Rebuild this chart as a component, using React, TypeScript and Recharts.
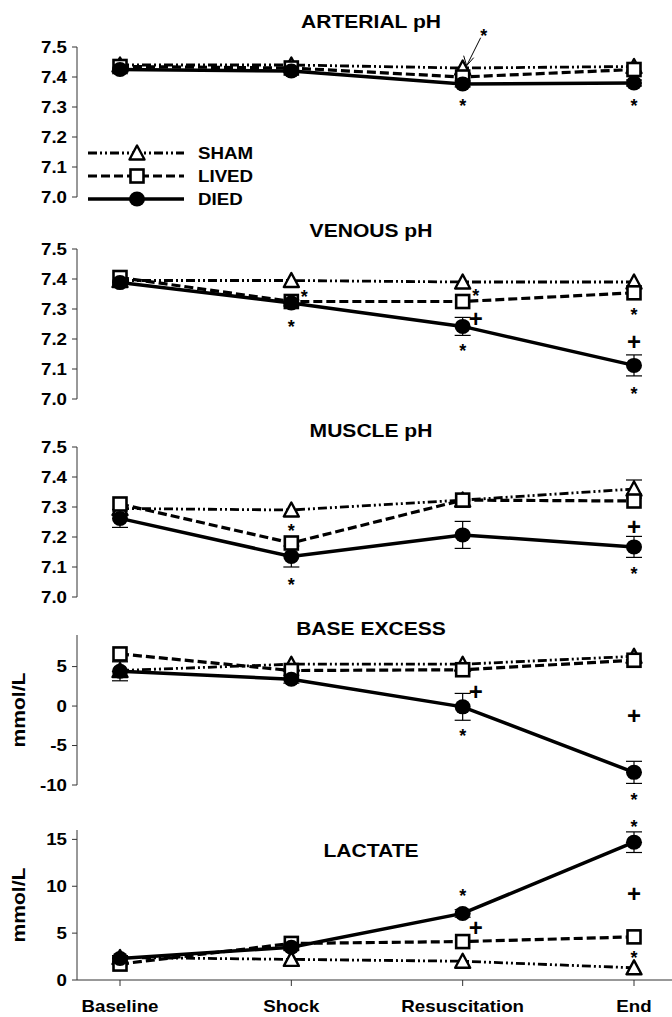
import React from 'react';
import { LineChart, Line, XAxis, YAxis, ErrorBar, ReferenceDot } from 'recharts';

const STAGES = ['Baseline', 'Shock', 'Resuscitation', 'End'];
const SERIES = ['SHAM', 'LIVED', 'DIED'];

// arterial pH
const ART_SHAM = [7.44, 7.44, 7.43, 7.435];
const ART_LIVED = [7.435, 7.43, 7.40, 7.425];
const ART_DIED = [7.425, 7.42, 7.377, 7.38];
const ART_DIED_ERR = [0, 0, 0.01, 0.01];

// venous pH
const VEN_SHAM = [7.395, 7.395, 7.39, 7.39];
const VEN_LIVED = [7.405, 7.325, 7.325, 7.354];
const VEN_DIED = [7.388, 7.32, 7.242, 7.112];
const VEN_DIED_ERR = [0, 0.01, 0.03, 0.035];

// muscle pH
const MUS_SHAM = [7.295, 7.29, 7.323, 7.36];
const MUS_SHAM_ERR = [0, 0, 0, 0.03];
const MUS_LIVED = [7.31, 7.18, 7.323, 7.32];
const MUS_DIED = [7.262, 7.135, 7.207, 7.167];
const MUS_DIED_ERR = [0.03, 0.035, 0.045, 0.035];

// base excess, mmol/L
const BE_SHAM = [4.5, 5.3, 5.3, 6.3];
const BE_LIVED = [6.6, 4.5, 4.6, 5.8];
const BE_DIED = [4.4, 3.4, -0.1, -8.4];
const BE_DIED_ERR = [1.2, 0.5, 1.7, 1.4];

// lactate, mmol/L
const LAC_SHAM = [2.4, 2.2, 2.0, 1.3];
const LAC_LIVED = [1.7, 3.9, 4.1, 4.6];
const LAC_DIED = [2.3, 3.5, 7.1, 14.7];
const LAC_DIED_ERR = [0.3, 0.3, 0.4, 1.1];

const PH_TICKS = [7.0, 7.1, 7.2, 7.3, 7.4, 7.5];
const BE_TICKS = [-10, -5, 0, 5];
const LAC_TICKS = [0, 5, 10, 15];

// significance marks: stage, value where the mark sits, glyph, placement
type Note = { at: string; v: number; m: string; side?: 'r' | 'arrow' };
const ART_NOTES: Note[] = [
  { at: 'Resuscitation', v: 7.318, m: '*' },
  { at: 'End', v: 7.318, m: '*' },
  { at: 'Resuscitation', v: 7.551, m: '*', side: 'arrow' },
];
const VEN_NOTES: Note[] = [
  { at: 'Shock', v: 7.354, m: '*', side: 'r' },
  { at: 'Shock', v: 7.255, m: '*' },
  { at: 'Resuscitation', v: 7.357, m: '*', side: 'r' },
  { at: 'Resuscitation', v: 7.267, m: '+', side: 'r' },
  { at: 'Resuscitation', v: 7.175, m: '*' },
  { at: 'End', v: 7.294, m: '*' },
  { at: 'End', v: 7.189, m: '+' },
  { at: 'End', v: 7.031, m: '*' },
];
const MUS_NOTES: Note[] = [
  { at: 'Shock', v: 7.232, m: '*' },
  { at: 'Shock', v: 7.052, m: '*' },
  { at: 'End', v: 7.235, m: '+' },
  { at: 'End', v: 7.091, m: '*' },
];
const BE_NOTES: Note[] = [
  { at: 'Resuscitation', v: 1.8, m: '+', side: 'r' },
  { at: 'Resuscitation', v: -3.3, m: '*' },
  { at: 'End', v: -1.2, m: '+' },
  { at: 'End', v: -11.4, m: '*' },
];
const LAC_NOTES: Note[] = [
  { at: 'Resuscitation', v: 9.4, m: '*' },
  { at: 'Resuscitation', v: 5.5, m: '+', side: 'r' },
  { at: 'End', v: 16.7, m: '*' },
  { at: 'End', v: 9.2, m: '+' },
  { at: 'End', v: 2.8, m: '*' },
];

const FONT = '"Liberation Sans", Arial, Helvetica, sans-serif';
const SX = 1.17; // the source figure's lettering is stretched sideways

const rows = (sham: number[], lived: number[], died: number[], diedErr: number[], shamErr?: number[]) =>
  STAGES.map((stage, i) => ({
    stage,
    sham: sham[i],
    lived: lived[i],
    died: died[i],
    diedErr: diedErr[i],
    shamErr: shamErr ? shamErr[i] : 0,
  }));

const PANELS = [
  { title: 'ARTERIAL pH', titleY: 21, top: 0, h: 210, mt: 47, mb: 13, domain: [7.0, 7.5], ticks: PH_TICKS, ph: true, data: rows(ART_SHAM, ART_LIVED, ART_DIED, ART_DIED_ERR), notes: ART_NOTES },
  { title: 'VENOUS pH', titleY: 230, top: 210, h: 200, mt: 39, mb: 11, domain: [7.0, 7.5], ticks: PH_TICKS, ph: true, data: rows(VEN_SHAM, VEN_LIVED, VEN_DIED, VEN_DIED_ERR), notes: VEN_NOTES },
  { title: 'MUSCLE pH', titleY: 430, top: 410, h: 200, mt: 37, mb: 13, domain: [7.0, 7.5], ticks: PH_TICKS, ph: true, data: rows(MUS_SHAM, MUS_LIVED, MUS_DIED, MUS_DIED_ERR, MUS_SHAM_ERR), notes: MUS_NOTES },
  { title: 'BASE EXCESS', titleY: 628, top: 610, h: 190, mt: 25, mb: 15, domain: [-10, 9], ticks: BE_TICKS, unit: true, data: rows(BE_SHAM, BE_LIVED, BE_DIED, BE_DIED_ERR), notes: BE_NOTES },
  { title: 'LACTATE', titleY: 850, top: 800, h: 217, mt: 30, mb: 7, domain: [0, 16], ticks: LAC_TICKS, unit: true, last: true, data: rows(LAC_SHAM, LAC_LIVED, LAC_DIED, LAC_DIED_ERR), notes: LAC_NOTES },
];

const Marker = ({ kind, cx, cy }: any) => {
  if (cx == null || cy == null) return null;
  if (kind === 'tri') {
    const s = 7.5;
    return <polygon points={`${cx},${cy - s} ${cx - s},${cy + s - 1} ${cx + s},${cy + s - 1}`} fill="#fff" stroke="#000" strokeWidth={2.4} strokeLinejoin="round" />;
  }
  if (kind === 'sq') {
    return <rect x={cx - 6.5} y={cy - 6.5} width={13} height={13} fill="#fff" stroke="#000" strokeWidth={2.6} />;
  }
  return <ellipse cx={cx} cy={cy} rx={8} ry={7.5} fill="#000" />;
};

const NoteMark = ({ cx, cy, m, side }: any) => {
  if (cx == null || cy == null) return null;
  const x = side === 'r' ? cx + 13 : side === 'arrow' ? cx + 21 : cx;
  const plus = m === '+';
  return (
    <g>
      <text x={x} y={cy + (plus ? 8 : 10)} textAnchor="middle" fontSize={plus ? 24 : 18} fontWeight="bold" fontFamily={FONT} fill="#000">
        {m}
      </text>
      {side === 'arrow' && (
        <g stroke="#000" strokeWidth={1} fill="none">
          <line x1={x - 3} y1={cy + 6} x2={cx + 4} y2={cy + 34} />
          <polyline points={`${cx + 1},${cy + 24} ${cx + 4},${cy + 34} ${cx + 11},${cy + 26}`} />
        </g>
      )}
    </g>
  );
};

const STYLE: Record<string, { dash?: string; width: number; kind: string }> = {
  SHAM: { dash: '9 3 2 3 2 3', width: 2.8, kind: 'tri' },
  LIVED: { dash: '9 4', width: 3.2, kind: 'sq' },
  DIED: { width: 3.5, kind: 'dot' },
};

// bold text stretched sideways around its anchor point
const Txt = ({ x, y, size, anchor = 'middle', rotate = 0, children }: any) => (
  <text
    transform={`translate(${x} ${y}) rotate(${rotate}) scale(${SX} 1)`}
    textAnchor={anchor}
    fontSize={size}
    fontWeight="bold"
    fontFamily={FONT}
    fill="#000"
  >
    {children}
  </text>
);

const Overlay = () => (
  <svg width={672} height={1017} style={{ position: 'absolute', left: 0, top: 0, pointerEvents: 'none' }}>
    {PANELS.map((p) => (
      <Txt key={p.title} x={371} y={p.titleY + 6.5} size={18}>
        {p.title}
      </Txt>
    ))}
    {SERIES.map((name, i) => {
      const y = 153 + i * 23;
      const st = STYLE[name];
      return (
        <g key={name}>
          <line x1={88} x2={184} y1={y} y2={y} stroke="#000" strokeWidth={st.width} strokeDasharray={st.dash} />
          <Marker kind={st.kind} cx={137} cy={y} />
          <Txt x={198} y={y + 6} size={16} anchor="start">
            {name}
          </Txt>
        </g>
      );
    })}
  </svg>
);

function Panel({ p }: any) {
  const fmt = (v: number) => (p.ph ? v.toFixed(1) : String(v));
  return (
    <div style={{ position: 'absolute', left: 0, top: p.top }}>
      <LineChart width={672} height={p.h} data={p.data} margin={{ top: p.mt, bottom: p.mb, left: 0, right: 0 }}>
        <XAxis
          dataKey="stage"
          hide={!p.last}
          padding={{ left: 43, right: 38 }}
          height={30}
          tickSize={6}
          tickMargin={2}
          stroke="#333"
          interval={0}
          tick={(t: any) => (
            <Txt x={t.x} y={t.y + 24} size={16}>
              {t.payload.value}
            </Txt>
          )}
        />
        <YAxis
          type="number"
          domain={p.domain}
          ticks={p.ticks}
          interval={0}
          width={77}
          tickSize={5}
          tickMargin={5}
          stroke="#333"
          allowDataOverflow
          tick={(t: any) => (
            <Txt x={t.x} y={t.y + 5.5} size={16} anchor="end">
              {fmt(t.payload.value)}
            </Txt>
          )}
          label={
            p.unit
              ? {
                  value: 'mmol/L',
                  content: (lp: any) => {
                    const vb = lp.viewBox || {};
                    const cy = vb.y + vb.height / 2;
                    return (
                      <Txt x={25} y={cy} size={18} rotate={-90}>
                        mmol/L
                      </Txt>
                    );
                  },
                }
              : undefined
          }
        />
        <Line dataKey="sham" stroke="#000" strokeWidth={STYLE.SHAM.width} strokeDasharray={STYLE.SHAM.dash} isAnimationActive={false} activeDot={false}
          dot={(d: any) => <Marker key={`s${d.index}`} kind="tri" cx={d.cx} cy={d.cy} />}>
          <ErrorBar dataKey="shamErr" width={8} stroke="#000" strokeWidth={1.2} isAnimationActive={false} />
        </Line>
        <Line dataKey="lived" stroke="#000" strokeWidth={STYLE.LIVED.width} strokeDasharray={STYLE.LIVED.dash} isAnimationActive={false} activeDot={false}
          dot={(d: any) => <Marker key={`l${d.index}`} kind="sq" cx={d.cx} cy={d.cy} />} />
        <Line dataKey="died" stroke="#000" strokeWidth={STYLE.DIED.width} isAnimationActive={false} activeDot={false}
          dot={(d: any) => <Marker key={`d${d.index}`} kind="dot" cx={d.cx} cy={d.cy} />}>
          <ErrorBar dataKey="diedErr" width={8} stroke="#000" strokeWidth={1.2} isAnimationActive={false} />
        </Line>
        {p.notes.map((n: Note, i: number) => (
          <ReferenceDot key={i} x={n.at} y={n.v} r={0} ifOverflow="visible" shape={(sp: any) => <NoteMark cx={sp.cx} cy={sp.cy} m={n.m} side={n.side} />} />
        ))}
      </LineChart>
    </div>
  );
}

export default function App() {
  return (
    <div style={{ position: 'absolute', left: 0, top: 0, width: 672, height: 1017, background: '#fff', overflow: 'hidden' }}>
      <style>{'.recharts-surface{overflow:visible}'}</style>
      {PANELS.map((p) => (
        <Panel key={p.title} p={p} />
      ))}
      <Overlay />
    </div>
  );
}
